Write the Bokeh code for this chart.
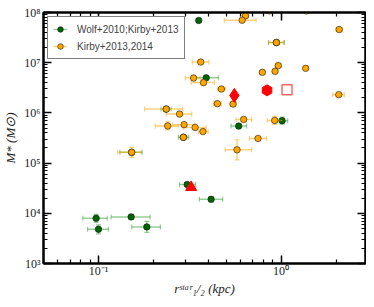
import numpy as np
from bokeh.plotting import figure
from bokeh.models import (ColumnDataSource, Whisker, TeeHead, LogAxis, FixedTicker,
                          CustomJSTickFormatter, Legend, LegendItem, Range1d)
from bokeh.embed import file_html
from bokeh.resources import INLINE

# ---------------- data ----------------
# Wolf+2010;Kirby+2013
w_r = [0.354, 0.389, 0.235, 0.292, 0.586, 1.013, 0.306, 0.414, 0.0971, 0.100, 0.151, 0.184, 0.943, 0.152]
w_r_lo = [0.354, 0.340, 0.220, 0.274, 0.532, 0.958, 0.278, 0.357, 0.0821, 0.0872, 0.1173, 0.1522, 0.853, 0.131]
w_r_hi = [0.354, 0.454, 0.250, 0.312, 0.648, 1.087, 0.340, 0.479, 0.1116, 0.1134, 0.1919, 0.2184, 1.043, 0.1735]
w_m = [6.95e7, 5.0e6, 1.19e6, 3.27e5, 5.46e5, 6.99e5, 3.74e4, 1.9e4, 7.94e3, 4.8e3, 8.47e3, 5.36e3, 2.52e7, 1.64e5]
w_m_dex = [0.0, 0.03, 0.03, 0.03, 0.05, 0.07, 0.04, 0.05, 0.08, 0.09, 0.05, 0.11, 0.03, 0.05]

# Kirby+2013,2014
k_r = [0.638, 0.612, 0.863, 1.375, 2.08, 0.943, 0.363, 0.966, 1.364, 0.790, 0.927, 0.332, 0.376, 0.471,
       2.07, 0.448, 0.546, 0.624, 0.923, 0.748, 0.574, 0.235, 0.278, 0.2395, 0.2944, 0.3383, 0.3733,
       0.2918, 0.152]
k_r_lo = [0.614, 0.489, 0.84, 1.33, 2.00, 0.855, 0.326, 0.93, 1.34, 0.765, 0.90, 0.299, 0.322, 0.449,
          1.916, 0.426, 0.525, 0.567, 0.841, 0.671, 0.494, 0.179, 0.235, 0.2043, 0.2551, 0.2918, 0.3526,
          0.28, 0.1275]
k_r_hi = [0.662, 0.730, 0.89, 1.42, 2.17, 1.033, 0.402, 1.00, 1.39, 0.815, 0.955, 0.360, 0.431, 0.495,
          2.22, 0.471, 0.567, 0.690, 1.016, 0.834, 0.690, 0.289, 0.324, 0.2741, 0.3374, 0.3886, 0.3985,
          0.305, 0.1713]
k_m = [8.55e7, 7.02e7, 1.08e8, 1.08e8, 4.58e7, 2.52e7, 1.03e7, 8.75e6, 7.73e6, 6.43e6, 6.73e6, 4.95e6,
       4.01e6, 2.99e6, 2.31e6, 1.53e6, 1.50e6, 7.41e5, 7.08e5, 3.10e5, 1.84e5, 1.19e6, 9.47e5, 5.5e5,
       5.84e5, 5.14e5, 4.24e5, 3.27e5, 1.64e5]
k_m_dex = [0.02, 0.02, 0.02, 0.02, 0.02, 0.03, 0.02, 0.03, 0.02, 0.02, 0.03, 0.02, 0.06, 0.02,
           0.02, 0.03, 0.03, 0.04, 0.08, 0.03, 0.20, 0.04, 0.03, 0.08, 0.03, 0.03, 0.03, 0.03, 0.10]

# individual red markers
diamond_r, diamond_m = [0.555], [2.23e6]
pentagon_r, pentagon_m = [0.838], [2.81e6]
square_r, square_m = [1.078], [2.90e6]
triangle_r, triangle_m = [0.3217], [3.30e4]

y_major = [1e3, 1e4, 1e5, 1e6, 1e7, 1e8]
x_major = [0.1, 1.0]

# ---------------- figure ----------------
p = figure(width=366, height=303, x_axis_type="log", y_axis_type="log",
           x_range=Range1d(0.05, 2.9), y_range=Range1d(1e3, 1e8),
           output_backend="svg", toolbar_location=None,
           min_border_left=36, min_border_right=1, min_border_top=12, min_border_bottom=40)
p.xgrid.visible = False
p.ygrid.visible = False
p.outline_line_color = "black"
p.outline_line_width = 2
p.background_fill_color = "white"
p.border_fill_color = "white"

x_minor = [k * 10.0**e for e in (-2, -1, 0) for k in range(2, 10) if 0.05 <= k * 10.0**e <= 2.9]
y_minor = [k * 10.0**e for e in range(3, 8) for k in range(2, 10)]
xt = FixedTicker(ticks=x_major, minor_ticks=x_minor)
yt = FixedTicker(ticks=y_major, minor_ticks=y_minor)

fmt = CustomJSTickFormatter(code="""
const sup = {"-":"\u207b","0":"\u2070","1":"\u00b9","2":"\u00b2","3":"\u00b3","4":"\u2074",
             "5":"\u2075","6":"\u2076","7":"\u2077","8":"\u2078","9":"\u2079"};
const e = Math.round(Math.log10(tick));
return "10" + String(e).split("").map(c => sup[c]).join("");
""")

def style_axis(ax, labels=True):
    ax.axis_line_width = 2
    ax.axis_line_color = "black"
    ax.major_tick_in = 8
    ax.major_tick_out = 0
    ax.minor_tick_in = 4
    ax.minor_tick_out = 0
    ax.major_tick_line_width = 1.5
    ax.minor_tick_line_width = 1.2
    ax.major_tick_line_color = "black"
    ax.minor_tick_line_color = "black"
    if labels:
        ax.major_label_text_font = "Liberation Serif"
        ax.major_label_text_font_size = "12px"
        ax.major_label_text_color = "#222222"
        ax.major_label_standoff = 3
        ax.formatter = fmt
    else:
        ax.major_label_text_font_size = "1px"
        ax.major_label_text_color = None
        ax.major_label_standoff = 0

xa = p.xaxis[0]
ya = p.yaxis[0]
xa.ticker = xt
ya.ticker = yt
style_axis(xa)
style_axis(ya)
xa.major_label_standoff = 0
xa.axis_label = "r\u02e2\u1d57\u1d43\u02b3\u2081/\u2082 (kpc)"
ya.axis_label = "M* (M\u2299)"
for ax in (xa, ya):
    ax.axis_label_text_font = "Liberation Serif"
    ax.axis_label_text_font_size = "13px"
    ax.axis_label_text_font_style = "italic"
    ax.axis_label_text_color = "#222222"
xa.axis_label_standoff = 0
ya.axis_label_standoff = 3

top = LogAxis(ticker=xt)
right = LogAxis(ticker=yt)
style_axis(top, labels=False)
style_axis(right, labels=False)
p.add_layout(top, "above")
p.add_layout(right, "right")

# ---------------- series ----------------
def series(r, lo, hi, m, dex, fill, bar_color):
    m_arr = np.array(m)
    d = np.array(dex)
    src = ColumnDataSource(dict(r=r, lo=lo, hi=hi, m=m,
                                mlo=list(m_arr * 10**(-d)), mhi=list(m_arr * 10**d)))
    seg = p.segment(x0="lo", y0="m", x1="hi", y1="m", source=src,
                    line_color=bar_color, line_alpha=0.5, line_width=1.5)
    caps_x = Whisker(source=src, base="m", lower="lo", upper="hi", dimension="width",
                     line_alpha=0,
                     lower_head=TeeHead(size=5, line_color=bar_color, line_alpha=0.5, line_width=1.2),
                     upper_head=TeeHead(size=5, line_color=bar_color, line_alpha=0.5, line_width=1.2))
    bars_y = Whisker(source=src, base="r", lower="mlo", upper="mhi", dimension="height",
                     line_color=bar_color, line_alpha=0.5, line_width=1.5,
                     lower_head=TeeHead(size=5, line_color=bar_color, line_alpha=0.5, line_width=1.2),
                     upper_head=TeeHead(size=5, line_color=bar_color, line_alpha=0.5, line_width=1.2))
    p.add_layout(caps_x)
    p.add_layout(bars_y)
    sc = p.scatter(x="r", y="m", source=src, marker="circle", size=6.5,
                   fill_color=fill, line_color="#1a1a1a", line_width=0.6)
    return seg, sc

g_seg, g_sc = series(w_r, w_r_lo, w_r_hi, w_m, w_m_dex, "#006400", "#2ca02c")
k_seg, k_sc = series(k_r, k_r_lo, k_r_hi, k_m, k_m_dex, "#FFA500", "#FFA500")

p.scatter(x=diamond_r, y=diamond_m, marker="diamond", size=14,
          fill_color="red", line_color="red")
p.scatter(x=pentagon_r, y=pentagon_m, marker="hex", size=11, angle=1.5708,
          fill_color="red", line_color="red")
p.scatter(x=square_r, y=square_m, marker="square", size=10,
          fill_color=None, line_color="red", line_alpha=0.6, line_width=1.5)
p.scatter(x=triangle_r, y=triangle_m, marker="triangle", size=11,
          fill_color="red", line_color="red")

legend = Legend(items=[LegendItem(label="Wolf+2010;Kirby+2013", renderers=[g_seg, g_sc]),
                       LegendItem(label="Kirby+2013,2014", renderers=[k_seg, k_sc])],
                location="top_left", margin=4, padding=5, spacing=3,
                label_height=14, glyph_height=14, glyph_width=14, label_standoff=10,
                label_text_font="Liberation Sans", label_text_font_size="10px",
                border_line_color="black", border_line_width=1,
                background_fill_color="white", background_fill_alpha=1)
p.add_layout(legend)

open("out.html", "w").write(file_html(p, INLINE))
